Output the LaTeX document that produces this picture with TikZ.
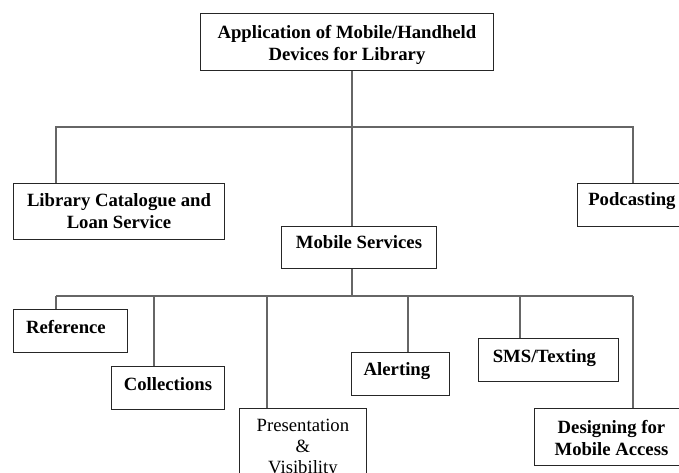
\documentclass[tikz,border=0pt]{standalone}
\usepackage{fontspec}
\setmainfont{Liberation Serif}
\begin{document}
\begin{tikzpicture}[x=1pt,y=-1pt,
  box/.style={draw=black!85, line width=0.9pt, fill=white, inner sep=0pt,
    align=center, anchor=north west,
    font=\fontsize{18.7}{22}\selectfont\bfseries},
  plainbox/.style={box, font=\fontsize{18.7}{21}\selectfont},
  link/.style={draw=black!60, line width=1.1pt}]
\useasboundingbox (0,0) rectangle (679,472);
\clip (0,0) rectangle (679,472);

% junction points of the two levels
\coordinate (trunk) at (352,127);
\coordinate (busL) at (56,127);
\coordinate (busR) at (633,127);
\coordinate (hub) at (352,296);
\coordinate (hubL) at (56,296);
\coordinate (hubR) at (633,296);
\coordinate (dRef) at (56,296);
\coordinate (dColl) at (154,296);
\coordinate (dPres) at (267,296);
\coordinate (dAlert) at (408,296);
\coordinate (dSms) at (520,296);
\coordinate (dDes) at (633,296);

% boxes (text height/depth measured from the last baseline)
\node[box, minimum width=293pt, text height=47.5pt, text depth=9.5pt] (top) at (200,13)
  {Application of Mobile/Handheld\\Devices for Library};
\node[box, minimum width=211pt, text height=45.5pt, text depth=10.5pt] (lib) at (13,183)
  {Library Catalogue and\\Loan Service};
\node[box, minimum width=109pt, text height=22pt, text depth=21pt] (pod) at (577,183)
  {Podcasting};
\node[box, minimum width=155pt, text height=22.3pt, text depth=19.7pt] (ms) at (281,226)
  {Mobile Services};
\node[box, minimum width=114pt, text height=24.3pt, text depth=18.7pt] (ref) at (13,309)
  {Reference\hspace*{9pt}};
\node[box, minimum width=113pt, text height=24pt, text depth=19pt] (coll) at (111,366)
  {Collections};
\node[plainbox, minimum width=127pt, text height=64.7pt, text depth=27.3pt] (pres) at (239,408)
  {Presentation\\\&\\Visibility};
\node[box, minimum width=98pt, text height=23pt, text depth=20pt] (alert) at (351,352)
  {Alerting\hspace*{7pt}};
\node[box, minimum width=140pt, text height=23.7pt, text depth=19.3pt] (sms) at (478,338)
  {SMS/Texting\hspace*{8pt}};
\node[box, minimum width=154pt, text height=47.3pt, text depth=9.7pt] (des) at (534,408)
  {Designing for\\Mobile Access};

% connectors, first level
\draw[link] (top.south -| trunk) -- (ms.north -| trunk);
\draw[link] (lib.north -| busL) -- (busL) -- (busR) -- (pod.north -| busR);

% connectors, second level
\draw[link] (ms.south -| hub) -- (hub);
\draw[link] (hubL) -- (hubR);
\draw[link] (dRef) -- (ref.north -| dRef);
\draw[link] (dColl) -- (coll.north -| dColl);
\draw[link] (dPres) -- (pres.north -| dPres);
\draw[link] (dAlert) -- (alert.north -| dAlert);
\draw[link] (dSms) -- (sms.north -| dSms);
\draw[link] (dDes) -- (des.north -| dDes);
\end{tikzpicture}
\end{document}
